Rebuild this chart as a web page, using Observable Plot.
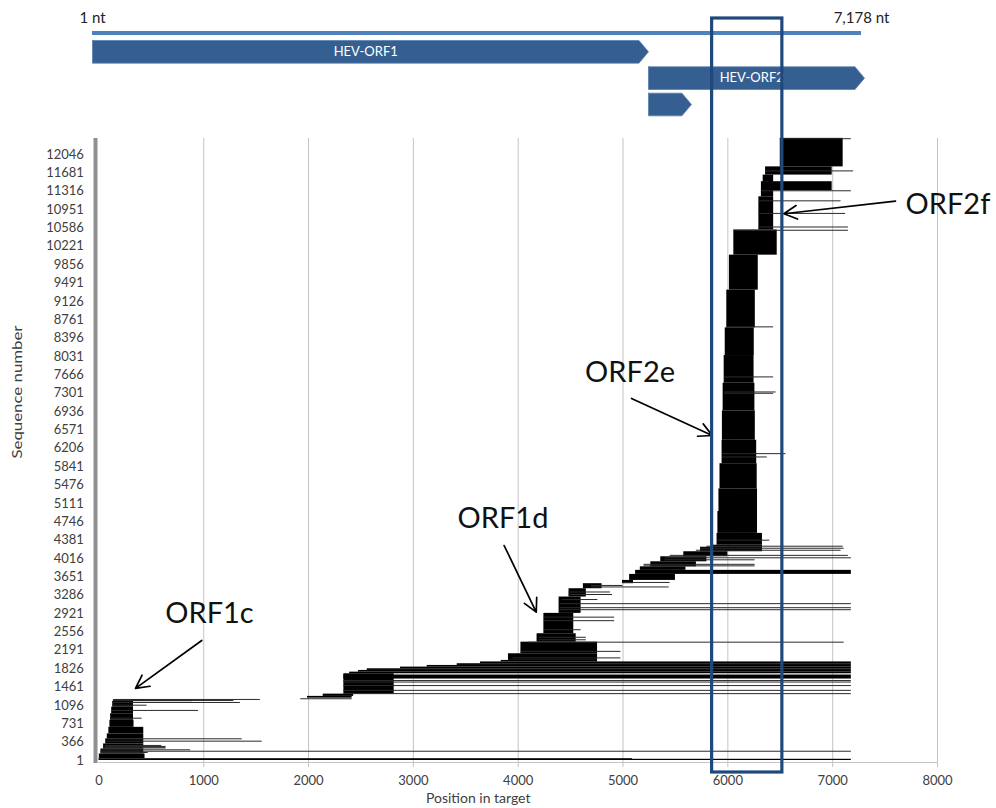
<!DOCTYPE html>
<html><head><meta charset="utf-8">
<script src="https://cdn.jsdelivr.net/npm/d3@7"></script>
<script src="https://cdn.jsdelivr.net/npm/@observablehq/plot@0.6"></script>
<style>
body{margin:0;background:#fff;font-family:Lato,sans-serif;}
#chart{position:relative;width:996px;height:808px;background:#fff;}
#chart svg{position:absolute;left:0;top:0;}
</style></head><body><div id="chart"></div>
<script>
// ---- axis ticks ----
const xTicks = [0, 1000, 2000, 3000, 4000, 5000, 6000, 7000, 8000];
const yTicks = [1, 366, 731, 1096, 1461, 1826, 2191, 2556, 2921, 3286, 3651, 4016, 4381, 4746, 5111, 5476, 5841, 6206, 6571, 6936, 7301, 7666, 8031, 8396, 8761, 9126, 9491, 9856, 10221, 10586, 10951, 11316, 11681, 12046];

// ---- dense groups of aligned sequences (sequence range, start/end position in target) ----
const blockSeqLow  = [1,25,40,130,230,330,430,530,660,800,930,1060,1180,1240,1275,1320,1620,1725,1757,1791,1824,1857,1890,1924,1960,1990,2122,2353,2520,2925,3250,3415,3515,3580,3700,3780,3850,3950,4050,4150,4240,4280,4515,4950,5400,5900,6366,6950,7500,8050,8600,9350,10045,10545,11205,11325,11505,11637,11800];
const blockSeqHigh = [25,40,130,230,330,430,530,660,800,930,1060,1180,1210,1275,1320,1725,1700,1757,1791,1824,1857,1890,1924,1960,1990,2122,2353,2520,2925,3250,3415,3515,3580,3700,3780,3850,3950,4050,4150,4240,4280,4515,4950,5400,5900,6366,6950,7500,8050,8600,9350,10045,10545,11205,11505,11505,11637,11800,12367];
const blockStartNt = [1,1,4,20,45,65,80,95,105,112,122,132,142,1990,2140,2337,2337,2392,2476,2560,2877,3132,3418,3640,3838,3907,4026,4180,4245,4390,4485,4622,4995,5063,5120,5165,5265,5360,5580,5740,5835,5897,5905,5915,5925,5945,5948,5955,5965,5975,5990,6015,6057,6296,6320,6337,6337,6360,6500];
const blockEndNt   = [7178,5090,440,428,428,428,428,428,335,330,330,330,415,2416,2430,2817,7178,7178,7178,7178,7178,7178,7178,7178,4757,4757,4757,4553,4530,4600,4650,4800,5100,5500,7178,5600,5700,5800,6000,6330,6330,6330,6283,6283,6280,6275,6262,6258,6250,6252,6262,6290,6471,6437,6437,6995,6437,6995,7100];

// ---- individual longer sequences ----
const lineSeq     = [185,160,213,250,265,280,300,385,432,842,996,1100,1154,1194,1200,1190,1214,1228,1330,1395,1490,1560,1590,2040,2170,2353,2400,2450,2600,2780,2850,2998,3038,3118,3200,3300,3350,3450,3480,3540,3870,3900,3990,4030,4078,4180,4220,4260,4380,6034,6100,7300,7326,7625,8620,10540,10605,10875,11125,11325,11720,12360];
const lineStartNt = [15,20,30,50,55,60,62,70,79,111,120,130,135,142,142,142,142,1925,2337,2337,2337,2337,2337,3950,4030,4100,4200,4200,4250,4250,4250,4400,4400,4400,4420,4485,4485,4700,4700,5000,5200,5200,5400,5400,5450,5700,5750,5800,5900,5950,5950,5970,5970,5970,5990,6060,6296,6296,6300,6320,6360,6500];
const lineEndNt   = [7178,470,875,640,640,640,600,1558,1367,413,950,460,1350,1288,890,890,1540,2416,7178,7178,7178,7178,7178,4980,4980,7110,4650,4650,4600,4920,4920,7178,7178,7178,4760,4900,4880,5440,5000,5450,6260,6260,6260,7178,7150,7080,7110,7100,6400,6376,6555,6437,6460,6437,6437,7150,7150,7123,7080,7178,7200,7178];

// ---- callouts ----
const calloutText = ["ORF1c", "ORF1d", "ORF2e", "ORF2f"];
const calloutX    = [1055, 3855, 5067, 8100];
const calloutY    = [2909, 4797, 7699, 11052];
const arrowX1 = [981, 3866, 5081, 7599];
const arrowY1 = [2386, 4274, 7196, 11118];
const arrowX2 = [349, 4172, 5851, 6534];
const arrowY2 = [1434, 2949, 6461, 10868];

// ---- highlighted window ----
const highlightStart = 5850, highlightEnd = 6520;

// ---- genome map ----
const genomeStart = 1, genomeEnd = 7178;
const orfLabel = ["HEV-ORF1", "HEV-ORF2", ""];
const orfStart = [1, 5190, 5190];
const orfEnd   = [5190, 7206, 5591];
const orfTrack = [1, 2, 3];

// ---- build tables ----
const blocks = blockSeqLow.map((lo, i) => ({low: lo, high: blockSeqHigh[i], start: blockStartNt[i], end: blockEndNt[i]}));
const lines = lineSeq.map((s, i) => ({seq: s, start: lineStartNt[i], end: lineEndNt[i]}));
const callouts = calloutText.map((t, i) => ({text: t, x: calloutX[i], y: calloutY[i]}));
const arrows = arrowX1.map((x, i) => ({x1: x, y1: arrowY1[i], x2: arrowX2[i], y2: arrowY2[i]}));

const FONT = "Lato, 'Open Sans', sans-serif";
const yLow = -39, yHigh = 12364;

const main = Plot.plot({
  width: 996, height: 808,
  marginLeft: 98.4, marginRight: 59, marginTop: 138, marginBottom: 46,
  style: {background: "transparent", fontFamily: FONT},
  x: {domain: [0, 8000], axis: null},
  y: {domain: [yLow, yHigh], axis: null},
  marks: [
    Plot.ruleX(xTicks.filter(d => d > 0), {stroke: "#c4c4c4", strokeWidth: 1, insetBottom: -5}),
    Plot.ruleY([yLow], {stroke: "#c4c4c4", strokeWidth: 1}),
    Plot.rect(blocks, {x1: "start", x2: "end", y1: "low", y2: "high", fill: "black"}),
    Plot.ruleY(lines, {y: "seq", x1: "start", x2: "end", stroke: "#2a2a2a", strokeWidth: 1}),
    Plot.ruleX([0], {stroke: "#8f8f8f", strokeWidth: 4, dx: -3.4, insetBottom: -1}),
    Plot.axisX(xTicks, {tickSize: 0, tickPadding: 13, fontSize: 13, color: "#404040", tickFormat: d => `${d}`, label: null}),
    Plot.axisY(yTicks, {tickSize: 0, tickPadding: 15, fontSize: 13, color: "#404040", tickFormat: d => `${d}`, label: null}),
    Plot.text(["Sequence number"], {frameAnchor: "left", textAnchor: "start", lineAnchor: "middle", dx: -81.4, dy: 8, rotate: -90, fontSize: 14, fill: "#404040"}),
    Plot.text(["Position in target"], {frameAnchor: "bottom", dx: -40, dy: 40, fontSize: 14, fill: "#404040"}),
    Plot.arrow(arrows, {x1: "x1", y1: "y1", x2: "x2", y2: "y2", stroke: "black", strokeWidth: 1.7, headLength: 13, headAngle: 55}),
    Plot.text(callouts, {x: "x", y: "y", text: "text", fontSize: 29, fill: "#111"})
  ]
});
// the reference's rotated axis title is drawn elongated
d3.select(main).selectAll("text")
  .filter(function() { return this.textContent === "Sequence number"; })
  .attr("textLength", 133).attr("lengthAdjust", "spacingAndGlyphs");

// genome map overlay
const tip = 89, half = 0.43, genomeTrack = 0.287;
const orfPts = orfStart.flatMap((s, i) => {
  const e = orfEnd[i], t = orfTrack[i];
  return [[s, t - half], [e - tip, t - half], [e, t], [e - tip, t + half], [s, t + half], [s, t - half]]
    .map(([x, y]) => ({x, y, id: i}));
});
const orfText = orfStart.map((s, i) => ({x: (s + orfEnd[i] - tip) / 2, y: orfTrack[i], label: orfLabel[i]}));
const annot = Plot.plot({
  width: 996, height: 130,
  marginLeft: 92, marginRight: 135, marginTop: 0, marginBottom: 0,
  style: {background: "transparent", fontFamily: FONT},
  x: {domain: [genomeStart, genomeEnd], axis: null},
  y: {domain: [1, 3], range: [51.3, 104], axis: null},
  marks: [
    Plot.ruleY([genomeTrack], {x1: genomeStart, x2: genomeEnd, stroke: "#4f81bd", strokeWidth: 4}),
    Plot.text([genomeStart], {x: d => d, y: genomeTrack, dy: -15, text: () => "1 nt", fontSize: 15, fill: "#222"}),
    Plot.text([genomeEnd], {x: d => d, y: genomeTrack, dy: -15, text: d => d3.format(",")(d) + " nt", fontSize: 15, fill: "#222"}),
    Plot.line(orfPts, {x: "x", y: "y", z: "id", fill: "#365f91", stroke: "#5a7fae", strokeWidth: 0.8}),
    Plot.text(orfText, {x: "x", y: "y", text: "label", fill: "white", fontSize: 13})
  ]
});

// highlight window overlay
const box = Plot.plot({
  width: 996, height: 808,
  marginLeft: 98.4, marginRight: 59, marginTop: 18, marginBottom: 36,
  style: {background: "transparent"},
  x: {domain: [0, 8000], axis: null},
  marks: [
    Plot.rect([0], {x1: highlightStart, x2: highlightEnd, stroke: "#1f497d", strokeWidth: 3.2, fill: "none"})
  ]
});

const c = document.getElementById("chart");
c.append(main, annot, box);
</script>
</body></html>
